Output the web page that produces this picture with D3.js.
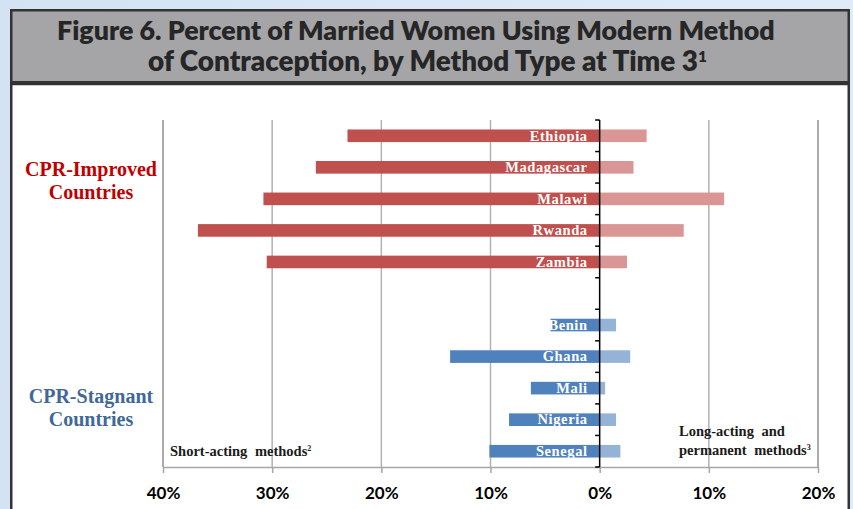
<!DOCTYPE html>
<html>
<head>
<meta charset="utf-8">
<script src="https://cdn.jsdelivr.net/npm/d3@7"></script>
<style>
  html, body { margin: 0; padding: 0; background: #dce9f6; }
  svg { display: block; }
</style>
</head>
<body>
<svg id="chart" width="853" height="509"></svg>
<script>
// Countries in each group, top to bottom
const improvedCountries = ["Ethiopia", "Madagascar", "Malawi", "Rwanda", "Zambia"];
const stagnantCountries = ["Benin", "Ghana", "Mali", "Nigeria", "Senegal"];

// Percent of married women using each method type (Time 3)
const improvedShort = [23.1, 26.0, 30.8, 36.8, 30.5];
const improvedLong  = [4.3, 3.1, 11.4, 7.7, 2.5];
const stagnantShort = [4.5, 13.7, 6.3, 8.3, 10.1];
const stagnantLong  = [1.5, 2.8, 0.5, 1.5, 1.9];

// Axis ticks (short-acting drawn to the left of zero)
const tickValues = [-40, -30, -20, -10, 0, 10, 20];

const colors = {
  improvedShort: "#c0504d",
  improvedLong: "#d99694",
  stagnantShort: "#4f81bd",
  stagnantLong: "#95b3d7"
};

const rows = [
  ...improvedCountries.map((c, i) => ({ country: c, short: improvedShort[i], long: improvedLong[i], group: "improved" })),
  ...stagnantCountries.map((c, i) => ({ country: c, short: stagnantShort[i], long: stagnantLong[i], group: "stagnant" }))
];
const yDomain = [...improvedCountries, "__spacer__", ...stagnantCountries];

const svg = d3.select("#chart");

// Frame: title box and white panel
const defs = svg.append("defs");
const grad = defs.append("linearGradient").attr("id", "bg").attr("x1", 0).attr("x2", 1).attr("y1", 0).attr("y2", 0);
grad.append("stop").attr("offset", "0%").attr("stop-color", "#d3e3f4");
grad.append("stop").attr("offset", "100%").attr("stop-color", "#dfebf7");
svg.append("rect").attr("width", 853).attr("height", 509).attr("fill", "url(#bg)");

svg.append("rect").attr("x", 11.25).attr("y", 84).attr("width", 837.5).attr("height", 430)
  .attr("fill", "#ffffff").attr("stroke", "#333333").attr("stroke-width", 2.5);
svg.append("rect").attr("x", 11.25).attr("y", 10.25).attr("width", 837.5).attr("height", 72)
  .attr("fill", "#a5a5a8").attr("stroke", "#333333").attr("stroke-width", 2.5);

// Title, fitted to its width
function fitText(sel, target) {
  const w = sel.node().getComputedTextLength();
  const fs = parseFloat(sel.attr("font-size"));
  sel.attr("font-size", fs * target / w);
}
const titleFont = "Lato, 'Open Sans', sans-serif";
const t1 = svg.append("text").attr("x", 57).attr("y", 40)
  .attr("font-family", titleFont).attr("font-weight", 800).attr("font-size", 24)
  .attr("fill", "#262626")
  .text("Figure 6. Percent of Married Women Using Modern Method");
fitText(t1, 718);
const t2 = svg.append("text").attr("x", 148).attr("y", 71)
  .attr("font-family", titleFont).attr("font-weight", 800).attr("font-size", 24)
  .attr("fill", "#262626");
t2.append("tspan").text("of Contraception, by Method Type at Time 3");
t2.append("tspan").attr("font-size", "0.55em").attr("dy", -9).text("1");
fitText(t2, 559);

// Scales
const x = d3.scaleLinear().domain([-40, 20]).range([163, 818]);
const y = d3.scaleBand().domain(yDomain).range([120, 467]).paddingInner(0.6).paddingOuter(0.3);

// Vertical gridlines
svg.append("g").selectAll("line")
  .data(tickValues.filter(d => d !== 0))
  .join("line")
  .attr("x1", d => x(d)).attr("x2", d => x(d))
  .attr("y1", 120).attr("y2", 467)
  .attr("stroke", d => (d === 20 || d === -40) ? "#8f8f8f" : "#b2b2b2")
  .attr("stroke-width", 1.5);

// Bottom axis
const xAxis = d3.axisBottom(x)
  .tickValues(tickValues)
  .tickFormat(d => Math.abs(d) + "%")
  .tickSize(6)
  .tickSizeOuter(0)
  .tickPadding(14);
const ax = svg.append("g").attr("transform", "translate(0,467)").call(xAxis);
ax.select(".domain").attr("stroke", "#a6a6a6").attr("stroke-width", 1.5);
ax.selectAll(".tick line").attr("stroke", "#a6a6a6").attr("stroke-width", 1.5);
ax.selectAll(".tick text")
  .attr("font-family", titleFont).attr("font-weight", 700).attr("font-size", 17)
  .attr("fill", "#000000");

// Bars
const bars = svg.append("g");
bars.selectAll("rect.short").data(rows).join("rect")
  .attr("class", "short")
  .attr("x", d => x(-d.short))
  .attr("width", d => x(0) - x(-d.short))
  .attr("y", d => y(d.country))
  .attr("height", y.bandwidth())
  .attr("fill", d => d.group === "improved" ? colors.improvedShort : colors.stagnantShort);
bars.selectAll("rect.long").data(rows).join("rect")
  .attr("class", "long")
  .attr("x", x(0))
  .attr("width", d => x(d.long) - x(0))
  .attr("y", d => y(d.country))
  .attr("height", y.bandwidth())
  .attr("fill", d => d.group === "improved" ? colors.improvedLong : colors.stagnantLong);

// Country labels inside the short-acting bars
const serif = "'Liberation Serif', 'Times New Roman', serif";
svg.append("g").selectAll("text").data(rows).join("text")
  .attr("x", x(0) - 12)
  .attr("y", d => y(d.country) + y.bandwidth() - 1.5)
  .attr("text-anchor", "end")
  .attr("font-family", serif).attr("font-weight", 700).attr("font-size", 14.5)
  .attr("letter-spacing", 0.6)
  .attr("fill", "#ffffff")
  .text(d => d.country);

// Zero axis with category ticks
const zero = svg.append("g");
zero.append("line").attr("x1", x(0)).attr("x2", x(0)).attr("y1", 120).attr("y2", 467)
  .attr("stroke", "#000000").attr("stroke-width", 1.5);
zero.selectAll("line.tk").data(d3.range(yDomain.length + 1)).join("line")
  .attr("class", "tk")
  .attr("x1", x(0) - 4.5).attr("x2", x(0))
  .attr("y1", i => 120 + i * y.step()).attr("y2", i => 120 + i * y.step())
  .attr("stroke", "#000000").attr("stroke-width", 1.5);

// Group labels
function groupLabel(lines, yTop, color) {
  const g = svg.append("text").attr("text-anchor", "middle")
    .attr("font-family", serif).attr("font-weight", 700).attr("font-size", 20)
    .attr("fill", color);
  lines.forEach((l, i) => g.append("tspan").attr("x", 91).attr("y", yTop + i * 23).text(l));
}
groupLabel(["CPR-Improved", "Countries"], 176, "#c00000");
groupLabel(["CPR-Stagnant", "Countries"], 403, "#41679b");

// Method type annotations
function note(xp, yp, parts) {
  const t = svg.append("text").attr("x", xp).attr("y", yp)
    .attr("font-family", serif).attr("font-weight", 700).attr("font-size", 14.5)
    .attr("fill", "#1a1a1a").attr("word-spacing", 4).attr("xml:space", "preserve");
  parts.forEach(p => {
    const s = t.append("tspan").text(p.text);
    if (p.sup) s.attr("font-size", 8).attr("dy", -5);
  });
}
note(170, 456, [{ text: "Short-acting methods" }, { text: "2", sup: true }]);
note(679, 436, [{ text: "Long-acting and" }]);
note(679, 455, [{ text: "permanent methods" }, { text: "3", sup: true }]);
</script>
</body>
</html>
